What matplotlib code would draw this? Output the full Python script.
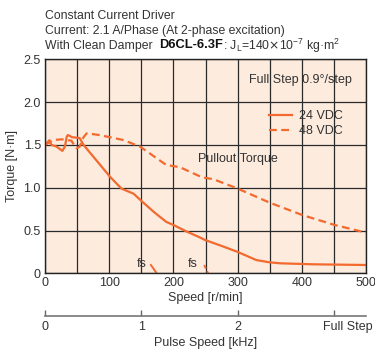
import matplotlib
matplotlib.use("Agg")
import matplotlib.pyplot as plt
from matplotlib.transforms import ScaledTranslation
import numpy as np

plt.rcParams["font.family"] = ["Liberation Sans", "DejaVu Sans"]

ORANGE = "#F26A2E"
BG = "#FDEBDE"
TXT = "#333333"

# 24 VDC pullout torque (solid)
speed_24 = [0, 7, 10, 18, 27, 31, 34, 36, 42, 54, 60, 80, 101, 119, 138, 151, 169,
            189, 200, 220, 241, 249, 275, 300, 329, 350, 366, 418, 500]
torque_24 = [1.50, 1.555, 1.50, 1.48, 1.43, 1.48, 1.60, 1.615, 1.59, 1.58, 1.50, 1.32,
             1.13, 0.99, 0.93, 0.84, 0.72, 0.60, 0.565, 0.49, 0.42, 0.39, 0.32, 0.25,
             0.155, 0.128, 0.117, 0.105, 0.097]

# 48 VDC pullout torque (dashed)
speed_48 = [0, 13, 26, 41, 49, 54, 60, 65, 85, 122, 148, 189, 210, 245, 262, 300,
            350, 401, 451, 500]
torque_48 = [1.50, 1.557, 1.565, 1.55, 1.46, 1.48, 1.59, 1.635, 1.615, 1.557, 1.48,
             1.265, 1.24, 1.12, 1.10, 0.99, 0.825, 0.68, 0.565, 0.475]

# starting frequency (fs) stubs
fs_speed_24 = [165, 174]
fs_torque_24 = [0.097, 0.0]
fs_speed_48 = [248, 254]
fs_torque_48 = [0.097, 0.0]

x_ticks = [0, 100, 200, 300, 400, 500]
y_ticks = [0, 0.5, 1.0, 1.5, 2.0, 2.5]
y_tick_labels = ["0", "0.5", "1.0", "1.5", "2.0", "2.5"]
pulse_ticks = [0, 1, 2, 3]
pulse_labels = ["0", "1", "2", "Full Step"]

fig = plt.figure(figsize=(3.75, 3.52), dpi=100)
ax = fig.add_axes([45 / 375, 1 - 273.3 / 352, 321 / 375, 214 / 352])
ax.set_facecolor(BG)
ax.set_xlim(0, 500)
ax.set_ylim(0, 2.5)

ax.set_xticks(x_ticks)
ax.set_xticks(np.arange(50, 500, 100), minor=True)
ax.set_yticks(y_ticks)
ax.set_yticklabels(y_tick_labels)
ax.tick_params(which="both", length=0, labelsize=9, colors=TXT, pad=3)
ax.grid(True, which="both", color="#2a2a2a", lw=0.9)
# some vertical gridlines are drawn lighter in the original
gray_x = {50, 100, 300, 350}
for t in ax.xaxis.get_major_ticks() + ax.xaxis.get_minor_ticks():
    if t.get_loc() in gray_x:
        t.gridline.set_color("#8c8c8c")
        t.gridline.set_linewidth(1.3)
ax.set_axisbelow(True)
for s in ax.spines.values():
    s.set_color("#222222")
    s.set_linewidth(1.0)

ax.plot(speed_24, torque_24, color=ORANGE, lw=1.6, label="24 VDC")
ax.plot(speed_48, torque_48, color=ORANGE, lw=1.6, ls=(0, (3.5, 2)), label="48 VDC")
ax.plot(fs_speed_24, fs_torque_24, color=ORANGE, lw=1.4)
ax.plot(fs_speed_48, fs_torque_48, color=ORANGE, lw=1.4, ls=(0, (2, 1.5)))

ax.set_xlabel("Speed [r/min]", fontsize=9, color=TXT, labelpad=2)
ax.set_ylabel("Torque [N·m]", fontsize=9, color=TXT, labelpad=4)

leg = ax.legend(loc="upper right", bbox_to_anchor=(0.947, 0.79), frameon=False,
                fontsize=9, handlelength=1.8, handletextpad=0.55, labelspacing=0.2,
                borderpad=0)
for t in leg.get_texts():
    t.set_color(TXT)

ax.text(0.955, 0.905, "Full Step 0.9°/step", transform=ax.transAxes,
        ha="right", va="center", fontsize=9, color=TXT)
ax.text(0.6, 0.535, "Pullout Torque", transform=ax.transAxes,
        ha="center", va="center", fontsize=9, color=TXT)
ax.text(150, 0.04, "fs", ha="center", va="bottom", fontsize=9, color=TXT)
ax.text(230, 0.04, "fs", ha="center", va="bottom", fontsize=9, color=TXT)

# pulse speed axis (1 kHz = 150 r/min at 0.9 deg/step)
sec = ax.secondary_xaxis((273.3 - 315.7) / 214,
                         functions=(lambda s: s / 150.0, lambda p: p * 150.0))
sec.set_xticks(pulse_ticks)
sec.set_xticklabels(pulse_labels)
sec.tick_params(direction="in", length=4, width=1, colors="#666666",
                labelsize=9, labelcolor=TXT, pad=4)
sec.spines["bottom"].set_color("#777777")
sec.spines["bottom"].set_linewidth(1.2)
sec.set_xlabel("Pulse Speed [kHz]", fontsize=9, color=TXT, labelpad=3)
lbl = sec.get_xticklabels()[-1]
lbl.set_transform(lbl.get_transform() + ScaledTranslation(14 / 100, 0, fig.dpi_scale_trans))

# header text
fs_head = 8.8
fig.text(45 / 375, 1 - 16 / 352, "Constant Current Driver", fontsize=fs_head,
         color=TXT, va="center")
fig.text(45 / 375, 1 - 31 / 352, "Current: 2.1 A/Phase (At 2-phase excitation)",
         fontsize=fs_head, color=TXT, va="center")
t1 = fig.text(45 / 375, 1 - 45.5 / 352, "With Clean Damper  ", fontsize=fs_head,
              color=TXT, va="center")
fig.canvas.draw()
r = fig.canvas.get_renderer()
bb = t1.get_window_extent(r)
t2 = fig.text(bb.x1 / fig.bbox.width, 1 - 45.5 / 352, "D6CL-6.3F", fontsize=9.3,
              fontweight="bold", color="#111111", va="center")
bb2 = t2.get_window_extent(r)
fig.text(bb2.x1 / fig.bbox.width, 1 - 45.5 / 352,
         r": J$_\mathregular{L}$=140$\times$10$^\mathregular{-7}$ kg·m$^\mathregular{2}$",
         fontsize=fs_head, color=TXT, va="center")

fig.savefig("out.png", dpi=100, facecolor="white")
